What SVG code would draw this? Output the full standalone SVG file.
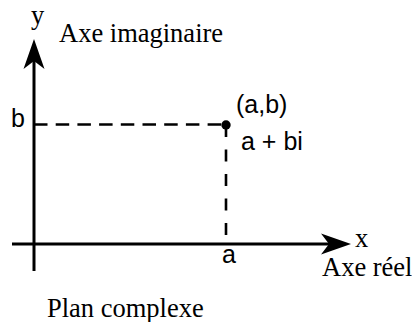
<svg xmlns="http://www.w3.org/2000/svg" width="412" height="322" viewBox="0 0 412 322">
<style>
.serif{font-family:"Liberation Serif","Times New Roman",serif;font-size:26.5px;fill:#000}
.sans{font-family:"Liberation Sans",Arial,sans-serif;font-size:25px;fill:#000}
.axis{stroke:#000;stroke-width:3;fill:none}
.dash{stroke:#000;stroke-width:2.6;fill:none}
</style>
<defs>
<marker id="arrow" markerUnits="userSpaceOnUse" viewBox="-9 -11 32 22" markerWidth="32" markerHeight="22" refX="0" refY="0" orient="auto">
<path d="M22,0 L-8,-10.5 L0,0 L-8,10.5 Z" fill="#000"/>
</marker>
</defs>
<rect width="412" height="322" fill="#fff"/>
<g id="connectors">
<line class="axis" x1="12" y1="244" x2="329" y2="244" marker-end="url(#arrow)"/>
<line class="axis" x1="34" y1="271" x2="34" y2="61" marker-end="url(#arrow)"/>
<line class="dash" x1="34" y1="124.5" x2="226" y2="124.5" stroke-dasharray="13.5 8.2"/>
<line class="dash" x1="226" y1="125" x2="226" y2="244" stroke-dasharray="12 12.5"/>
</g>
<g id="y-axis-label">
<text class="serif" x="31" y="24">y</text>
<text class="serif" x="59" y="42">Axe imaginaire</text>
</g>
<g id="x-axis-label">
<text class="serif" x="355" y="247">x</text>
<text class="serif" x="322" y="276">Axe réel</text>
</g>
<g id="b-label"><text class="sans" x="11" y="127">b</text></g>
<g id="a-label"><text class="sans" x="222" y="263">a</text></g>
<g id="point">
<circle cx="226" cy="125" r="4.7" fill="#000"/>
<text class="sans" x="236" y="113">(a,b)</text>
<text class="sans" x="241" y="150">a + bi</text>
</g>
<g id="title"><text class="serif" x="47" y="317">Plan complexe</text></g>
</svg>
